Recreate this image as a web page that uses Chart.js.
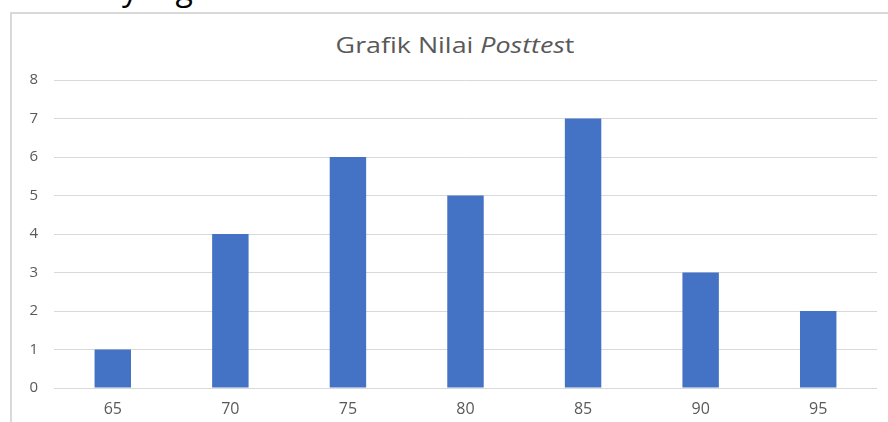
<!DOCTYPE html>
<html>
<head>
<meta charset="utf-8">
<script src="https://cdn.jsdelivr.net/npm/chart.js@4"></script>
<style>
  html, body { margin: 0; padding: 0; background: #fff; overflow: hidden; }
  body { width: 888px; height: 422px; position: relative; }
  .cut-text {
    position: absolute; left: 122px; top: -34px;
    font: 32px "Open Sans", sans-serif; color: #000; white-space: nowrap;
  }
  .frame {
    position: absolute; left: 10px; top: 12px; width: 900px; height: 440px;
    border: 2px solid #d9d9d9; box-sizing: border-box;
  }
  .title {
    position: absolute; left: 0; width: 910px; top: 29px; text-align: center;
    font: 22px "Open Sans", sans-serif; color: #595959;
    transform: scaleX(1.22); transform-origin: 455px 0;
  }
  #wrap { position: absolute; left: 0; top: 0; width: 888px; height: 422px; }
</style>
</head>
<body>
<div class="cut-text">yang</div>
<div class="frame"></div>
<div class="title">Grafik Nilai <i>Posttes</i>t</div>
<div id="wrap"><canvas id="barChart"></canvas></div>
<script>
  // nilai posttest dan jumlah siswa
  const categories = ['65', '70', '75', '80', '85', '90', '95'];
  const jumlah = [1, 4, 6, 5, 7, 3, 2];
  const yTicks = [0, 1, 2, 3, 4, 5, 6, 7, 8];

  var ctx = document.getElementById('barChart').getContext('2d');
  var myBarChart = new Chart(ctx, {
    type: 'bar',
    data: {
      labels: categories,
      datasets: [{
        label: 'Posttest',
        data: jumlah,
        backgroundColor: '#4472C4',
        borderWidth: 0,
        barPercentage: 0.31,
        categoryPercentage: 1
      }]
    },
    options: {
      responsive: true,
      maintainAspectRatio: false,
      animation: false,
      layout: { padding: { left: 0, right: 11, top: 80, bottom: 0 } },
      plugins: {
        legend: { display: false },
        title: { display: false },
        tooltip: { enabled: false }
      },
      scales: {
        x: {
          afterFit: function (scale) { scale.height = 34; },
          grid: { display: false, drawTicks: false },
          border: { display: false },
          ticks: {
            color: '#595959',
            padding: 12,
            maxRotation: 0,
            font: { family: 'Open Sans', size: 16 }
          }
        },
        y: {
          min: yTicks[0],
          max: yTicks[yTicks.length - 1],
          afterFit: function (scale) { scale.width = 54; },
          afterBuildTicks: function (scale) {
            scale.ticks = yTicks.map(function (v) { return { value: v }; });
          },
          grid: { color: '#d9d9d9', lineWidth: 1, drawTicks: false },
          border: { display: false },
          ticks: {
            color: '#595959',
            padding: 16,
            font: { family: 'Open Sans', size: 15 }
          }
        }
      }
    }
  });
</script>
</body>
</html>
